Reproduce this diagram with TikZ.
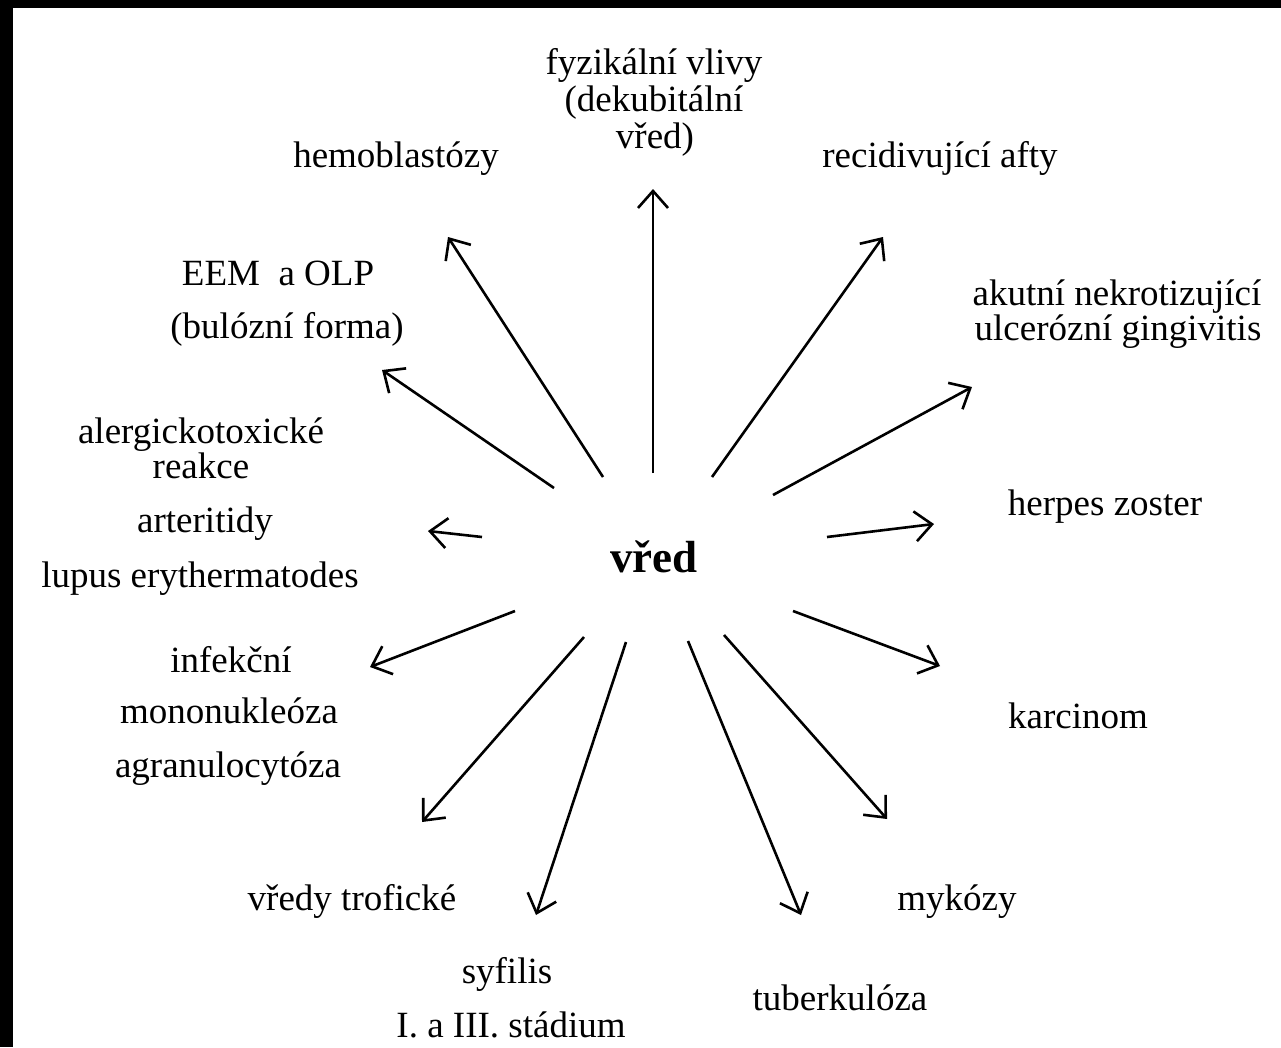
\documentclass[tikz,border=0pt]{standalone}
\usepackage{fontspec}
\setmainfont{Liberation Serif}
\usetikzlibrary{arrows.meta}
\begin{document}
\begin{tikzpicture}[x=1pt,y=-1pt,
  lbl/.style={anchor=base,inner sep=0pt,font=\fontsize{37}{37}\selectfont},
  hub/.style={anchor=base,inner sep=0pt,font=\fontsize{45}{45}\selectfont\bfseries},
  arr/.style={line width=2.6pt,-{Straight Barb[length=17pt,width=30pt,line width=2.6pt]}}]
\useasboundingbox (0,0) rectangle (1281,1047);
\fill[white] (0,0) rectangle (1281,1047);
\fill[black] (0,0) rectangle (1281,8);
\fill[black] (0,0) rectangle (13,1047);
% hub
\node[hub] (hub) at (654,572) {vřed};
% labels
\node[lbl] (fyz1) at (654,74) {fyzikální vlivy};
\node[lbl] (fyz2) at (654,111) {(dekubitální};
\node[lbl] (fyz3) at (655,148) {vřed)};
\node[lbl] (hemo) at (396,167) {hemoblastózy};
\node[lbl] (afty) at (940,167) {recidivující afty};
\node[lbl] (eem1) at (278,285) {EEM\ \ a OLP};
\node[lbl] (eem2) at (287,338) {(bulózní forma)};
\node[lbl] (anug1) at (1117,305) {akutní nekrotizující};
\node[lbl] (anug2) at (1118,340) {ulcerózní gingivitis};
\node[lbl] (alg1) at (201,443) {alergickotoxické};
\node[lbl] (alg2) at (201,478) {reakce};
\node[lbl] (art) at (205,532) {arteritidy};
\node[lbl] (lup) at (200,587) {lupus erythermatodes};
\node[lbl] (herp) at (1105,515) {herpes zoster};
\node[lbl] (inf1) at (231,672) {infekční};
\node[lbl] (inf2) at (229,723) {mononukleóza};
\node[lbl] (agr) at (228,777) {agranulocytóza};
\node[lbl] (karc) at (1078,728) {karcinom};
\node[lbl] (trof) at (352,910) {vředy trofické};
\node[lbl] (myk) at (957,910) {mykózy};
\node[lbl] (syf1) at (507,983) {syfilis};
\node[lbl] (syf2) at (511,1037) {I. a III. stádium};
\node[lbl] (tbc) at (840,1010) {tuberkulóza};
% arrow ends
\coordinate (t1) at (653,473); \coordinate (h1) at (653,189);
\coordinate (t2) at (712,477); \coordinate (h2) at (883,237);
\coordinate (t3) at (773,495); \coordinate (h3) at (972,387);
\coordinate (t4) at (827,537); \coordinate (h4) at (934,524);
\coordinate (t5) at (793,611); \coordinate (h5) at (940,666);
\coordinate (t6) at (724,635); \coordinate (h6) at (887,819);
\coordinate (t7) at (688,641); \coordinate (h7) at (801,915);
\coordinate (t8) at (626,642); \coordinate (h8) at (536,915);
\coordinate (t9) at (584,637); \coordinate (h9) at (422,822);
\coordinate (t10) at (515,611); \coordinate (h10) at (370,667);
\coordinate (t11) at (482,537); \coordinate (h11) at (428,531);
\coordinate (t12) at (554,488); \coordinate (h12) at (382,370);
\coordinate (t13) at (603,477); \coordinate (h13) at (448,237);
\foreach \i in {1,...,13} {\draw[arr] (t\i) -- (h\i);}
\end{tikzpicture}
\end{document}
